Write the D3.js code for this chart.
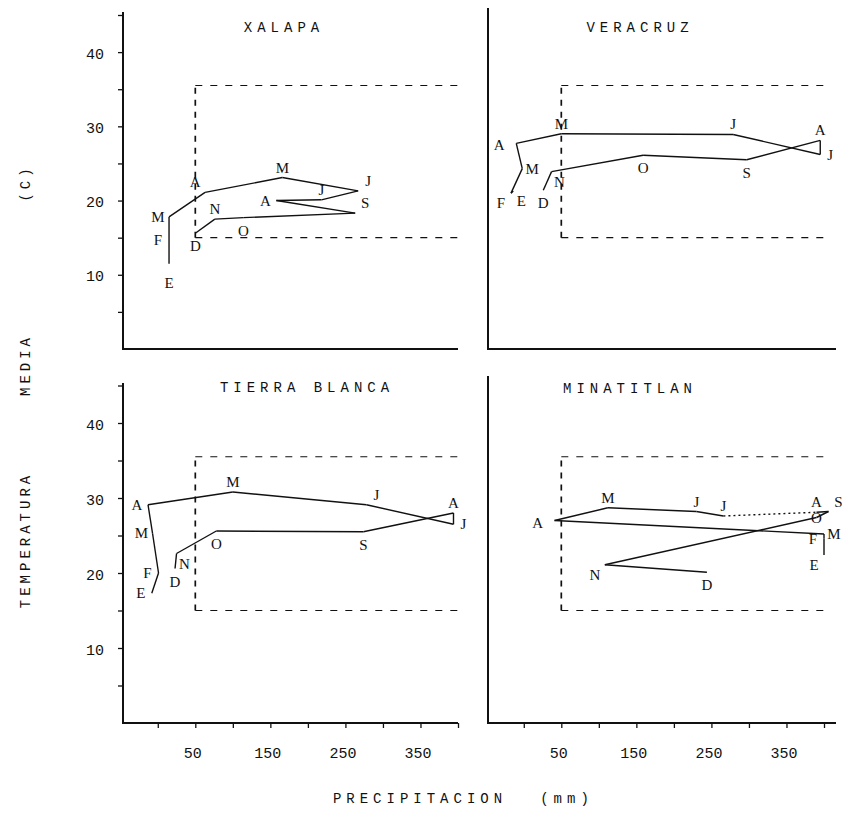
<!DOCTYPE html>
<html>
<head>
<meta charset="utf-8">
<script src="https://cdn.jsdelivr.net/npm/d3@7"></script>
<style>
  body { margin: 0; background: #fff; }
  text { fill: #111; }
</style>
</head>
<body>
<script>
// month initials (Spanish), same order for every station
var months = ["E", "F", "M", "A", "M", "J", "J", "A", "S", "O", "N", "D"];

// precipitation (mm) and mean temperature (C)
var xalapaPrecip = [15, 15, 15, 63, 166, 267, 218, 158, 263, 114, 76, 50];
var xalapaTemp = [11.5, 14.7, 17.8, 21.1, 23.1, 21.3, 20.1, 20.0, 18.3, 17.7, 17.5, 15.6];

var veracruzPrecip = [-14, -17, -2, -10, 50, 279, 395, 395, 297, 159, 37, 26];
var veracruzTemp = [21.3, 21.0, 24.3, 27.7, 29.0, 28.9, 26.2, 28.1, 25.5, 26.1, 23.9, 21.4];

var tierraPrecip = [-8, 1, -7, -13, 100, 278, 394, 394, 274, 78, 25, 23];
var tierraTemp = [17.3, 20.0, 25.3, 29.1, 30.8, 29.1, 26.5, 28.0, 25.5, 25.6, 22.6, 20.6];

var minatitlanPrecip = [400, 400, 400, 41, 112, 230, 266, 390, 406, 390, 108, 244];
var minatitlanTemp = [22.4, 24.6, 25.2, 27.0, 28.7, 28.2, 27.6, 28.1, 28.2, 27.4, 21.1, 20.1];

// dashed reference zone: from 50 mm, between 15 and 35.5 C
var zonePrecip = [50, 402];
var zoneTemp = [15, 35.5];

var tempTicks = [5, 10, 15, 20, 25, 30, 35, 40, 45];
var tempLabels = [10, 20, 30, 40];
var precipTicks = [0, 50, 100, 150, 200, 250, 300, 350, 400];
var precipLabels = [50, 150, 250, 350];

// where each month letter sits relative to its point
var xalapaLab = ["s2", "w", "w", "nw", "n", "ne", "n", "w", "ne", "s", "n", "s"];
var veracruzLab = ["se", "sw", "e", "w2", "n", "n", "e", "n", "s", "s", "se", "s"];
var tierraLab = ["w", "w", "w", "w", "n", "ne", "e", "n", "s", "s", "se", "s"];
var minatitlanLab = ["sw", "w", "e", "w2", "n", "n", "n", "n", "ne", "c", "sw", "s"];

var OFF = {
  n: [0, -10], s: [0, 13], s2: [0, 19], e: [10, 0], w: [-11, 0], w2: [-17, 2],
  ne: [10, -10], nw: [-10, -10], se: [8, 10], sw: [-10, 10], c: [0, 0]
};

var W = 842, H = 821;
var svg = d3.select("body").append("svg")
  .attr("width", W).attr("height", H)
  .style("font-family", "'Liberation Serif', serif");

var cols = [
  { axis: 123, r0: 124, r1: 458, end: 458 },
  { axis: 488, r0: 490, r1: 824, end: 836 }
];
var rows = [
  { r0: 349, r1: 15 },
  { r0: 723, r1: 385.5 }
];

var panels = [
  { name: "XALAPA", p: xalapaPrecip, t: xalapaTemp, lab: xalapaLab, col: 0, row: 0, top: 12, tx: 284, ty: 32, dotted: [] },
  { name: "VERACRUZ", p: veracruzPrecip, t: veracruzTemp, lab: veracruzLab, col: 1, row: 0, top: 8, tx: 640, ty: 32, dotted: [] },
  { name: "TIERRA BLANCA", p: tierraPrecip, t: tierraTemp, lab: tierraLab, col: 0, row: 1, top: 383, tx: 307, ty: 392, dotted: [] },
  { name: "MINATITLAN", p: minatitlanPrecip, t: minatitlanTemp, lab: minatitlanLab, col: 1, row: 1, top: 376, tx: 630, ty: 393, dotted: [6] }
];

panels.forEach(function (pn) {
  var c = cols[pn.col], r = rows[pn.row];
  var x = d3.scaleLinear().domain([-45, 400]).range([c.r0, c.r1]);
  var y = d3.scaleLinear().domain([0, 45]).range([r.r0, r.r1]);
  var g = svg.append("g");

  // y axis
  var ya = d3.axisLeft(y).tickSizeOuter(0).tickSize(5)
    .tickValues(pn.col == 0 ? tempTicks : [])
    .tickFormat(function (d) { return tempLabels.indexOf(d) >= 0 ? d : ""; });
  var yg = g.append("g").attr("transform", "translate(" + c.axis + ",0)").call(ya);
  yg.select(".domain").remove();
  yg.selectAll(".tick line").attr("stroke", "#111").attr("stroke-width", 1.3);
  yg.selectAll(".tick text")
    .attr("x", -19).attr("dy", "0.4em")
    .style("font-family", "'Liberation Mono', monospace").style("font-size", "15px");
  g.append("line").attr("x1", c.axis).attr("x2", c.axis)
    .attr("y1", pn.top).attr("y2", r.r0 + 1)
    .attr("stroke", "#111").attr("stroke-width", 2);

  // x axis
  var xa = d3.axisBottom(x).tickSizeOuter(0).tickSize(5)
    .tickValues(pn.row == 1 ? precipTicks : [])
    .tickFormat(function (d) { return precipLabels.indexOf(d) >= 0 ? d : ""; });
  var xg = g.append("g").attr("transform", "translate(0," + r.r0 + ")").call(xa);
  xg.select(".domain").remove();
  xg.selectAll(".tick line").attr("stroke", "#111").attr("stroke-width", 1.3);
  xg.selectAll(".tick text")
    .attr("y", 24).attr("dx", "-3px")
    .style("font-family", "'Liberation Mono', monospace").style("font-size", "15px");
  g.append("line").attr("x1", c.axis).attr("x2", c.end)
    .attr("y1", r.r0).attr("y2", r.r0)
    .attr("stroke", "#111").attr("stroke-width", 1.8);

  // dashed zone
  var dz = g.append("g").attr("stroke", "#111").attr("fill", "none");
  dz.append("line")
    .attr("x1", x(zonePrecip[0])).attr("x2", x(zonePrecip[0]))
    .attr("y1", y(zoneTemp[0])).attr("y2", y(zoneTemp[1]))
    .attr("stroke-width", 1.7).attr("stroke-dasharray", "6,6");
  zoneTemp.forEach(function (t) {
    dz.append("line")
      .attr("x1", x(zonePrecip[0])).attr("x2", x(zonePrecip[1]))
      .attr("y1", y(t)).attr("y2", y(t))
      .attr("stroke-width", 1.2).attr("stroke-dasharray", "7,8");
  });

  // the yearly path, month to month
  d3.range(months.length - 1).forEach(function (i) {
    g.append("line")
      .attr("x1", x(pn.p[i])).attr("y1", y(pn.t[i]))
      .attr("x2", x(pn.p[i + 1])).attr("y2", y(pn.t[i + 1]))
      .attr("stroke", "#111").attr("stroke-width", 1.4)
      .attr("stroke-dasharray", pn.dotted.indexOf(i) >= 0 ? "2,3" : null);
  });

  g.selectAll("text.m").data(months).enter().append("text")
    .attr("class", "m")
    .attr("x", function (d, i) { return x(pn.p[i]) + OFF[pn.lab[i]][0]; })
    .attr("y", function (d, i) { return y(pn.t[i]) + OFF[pn.lab[i]][1] + 5; })
    .attr("text-anchor", "middle")
    .style("font-size", "15px")
    .text(function (d) { return d; });

  g.append("text")
    .attr("x", pn.tx).attr("y", pn.ty)
    .attr("text-anchor", "middle")
    .style("font-family", "'Liberation Mono', monospace")
    .style("font-size", "14px").style("letter-spacing", "5px")
    .text(pn.name);
});

// axis titles
var mono = "'Liberation Mono', monospace";
[["TEMPERATURA", 540], ["MEDIA", 365], ["(C)", 183]].forEach(function (w) {
  svg.append("text")
    .attr("transform", "translate(30," + w[1] + ") rotate(-90)")
    .attr("text-anchor", "middle")
    .style("font-family", mono).style("font-size", "14px").style("letter-spacing", "4px")
    .text(w[0]);
});
[["PRECIPITACION", 420], ["(mm)", 567]].forEach(function (w) {
  svg.append("text")
    .attr("x", w[1]).attr("y", 803)
    .attr("text-anchor", "middle")
    .style("font-family", mono).style("font-size", "14px").style("letter-spacing", "5px")
    .text(w[0]);
});
</script>
</body>
</html>
